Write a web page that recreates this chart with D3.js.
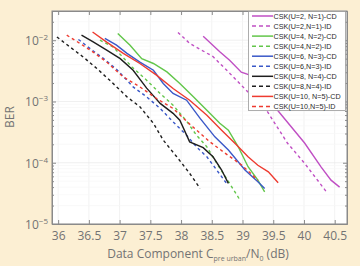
<!DOCTYPE html>
<html>
<head>
<meta charset="utf-8">
<script src="https://cdn.jsdelivr.net/npm/d3@7"></script>
<style>
  html, body { margin: 0; padding: 0; background: #fcefd3; }
  svg { display: block; }
</style>
</head>
<body>
<div id="chart"></div>
<script>
// BER vs C/N0 curves

var xTicks = [36, 36.5, 37, 37.5, 38, 38.5, 39, 39.5, 40, 40.5];
var yTicks = [1e-5, 1e-4, 1e-3, 1e-2];
var yTickExp = ["-5", "-4", "-3", "-2"];

// U=2, N=1
var snrU2CD = [38.36, 38.63, 38.79, 38.98, 39.12, 39.57, 40.01, 40.28, 40.44, 40.58];
var berU2CD = [1.16e-2, 6.5e-3, 4.7e-3, 3.0e-3, 2.7e-3, 7.2e-4, 2.1e-4, 8.5e-5, 5.2e-5, 4.0e-5];
var snrU2ID = [37.95, 38.14, 38.52, 38.79, 39.04, 39.39, 39.73, 40.01, 40.36];
var berU2ID = [1.34e-2, 8.9e-3, 5.4e-3, 2.9e-3, 1.6e-3, 7.2e-4, 2.1e-4, 9.8e-5, 3.4e-5];
// U=4, N=2
var snrU4CD = [36.97, 37.17, 37.36, 37.55, 37.77, 37.98, 38.20, 38.42, 38.63, 38.77, 38.93, 39.09, 39.25, 39.36];
var berU4CD = [1.29e-2, 8.3e-3, 5.0e-3, 4.17e-3, 3.04e-3, 1.97e-3, 1.19e-3, 7.2e-4, 4.4e-4, 3.4e-4, 1.82e-4, 8.6e-5, 5.2e-5, 3.35e-5];
var snrU4ID = [36.68, 36.90, 37.20, 37.44, 37.66, 37.87, 38.09, 38.25, 38.42, 38.60, 38.79, 38.96];
var berU4ID = [1.0e-2, 7.7e-3, 3.67e-3, 2.22e-3, 1.35e-3, 8.7e-4, 4.78e-4, 2.82e-4, 1.82e-4, 9.1e-5, 4.6e-5, 2.45e-5];
// U=6, N=3
var snrU6CD = [36.76, 36.95, 37.12, 37.33, 37.55, 37.71, 37.87, 38.09, 38.31, 38.55, 38.77, 39.04, 39.25, 39.36];
var berU6CD = [1.07e-2, 8.3e-3, 6.1e-3, 4.4e-3, 3.24e-3, 1.97e-3, 1.35e-3, 1.05e-3, 5.3e-4, 2.65e-4, 1.61e-4, 7.6e-5, 4.9e-5, 3.8e-5];
var snrU6ID = [36.33, 36.52, 36.74, 36.95, 37.22, 37.44, 37.66, 37.87, 38.09, 38.25, 38.42, 38.58, 38.74];
var berU6ID = [1.03e-2, 7.3e-3, 5.0e-3, 3.36e-3, 1.73e-3, 1.19e-3, 7.7e-4, 4.65e-4, 2.82e-4, 1.82e-4, 1.25e-4, 7.6e-5, 4.6e-5];
// U=8, N=4
var snrU8CD = [36.38, 36.57, 36.79, 37.01, 37.22, 37.44, 37.66, 37.87, 37.98, 38.14, 38.36, 38.52, 38.66, 38.77];
var berU8CD = [1.21e-2, 9.4e-3, 6.9e-3, 5.0e-3, 3.24e-3, 1.65e-3, 9.3e-4, 6.4e-4, 4.96e-4, 2.19e-4, 1.76e-4, 1.25e-4, 7.6e-5, 4.6e-5];
var snrU8ID = [35.98, 36.19, 36.41, 36.63, 36.84, 37.12, 37.33, 37.55, 37.71, 37.93, 38.14, 38.31];
var berU8ID = [1.13e-2, 7.8e-3, 5.3e-3, 3.45e-3, 2.22e-3, 1.19e-3, 8.2e-4, 4.4e-4, 2.34e-4, 1.25e-4, 6.7e-5, 3.8e-5];
// U=10, N=5
var snrU10CD = [36.56, 36.79, 37.06, 37.33, 37.60, 37.87, 38.14, 38.42, 38.66, 38.88, 39.09, 39.25, 39.42, 39.58];
var berU10CD = [1.36e-2, 9.3e-3, 6.1e-3, 4.17e-3, 2.69e-3, 1.63e-3, 1.05e-3, 5.98e-4, 3.4e-4, 2.06e-4, 1.25e-4, 9.1e-5, 7.1e-5, 4.7e-5];
var snrU10ID = [36.14, 36.36, 36.57, 36.79, 37.06, 37.33, 37.60, 37.87, 38.14, 38.47, 38.76, 38.99, 39.25];
var berU10ID = [1.21e-2, 8.8e-3, 6.4e-3, 4.4e-3, 2.52e-3, 1.73e-3, 1.12e-3, 7.7e-4, 4.27e-4, 2.19e-4, 1.33e-4, 9.1e-5, 5.2e-5];

var legendLabels = ["CSK(U=2, N=1)-CD", "CSK(U=2,N=1)-ID", "CSK(U=4, N=2)-CD", "CSK(U=4,N=2)-ID",
    "CSK(U=6, N=3)-CD", "CSK(U=6,N=3)-ID", "CSK(U=8, N=4)-CD", "CSK(U=8,N=4)-ID",
    "CSK(U=10, N=5)-CD", "CSK(U=10,N=5)-ID"];

// series in legend order
var series = [
    { x: snrU2CD, y: berU2CD, color: "#c04fc4", dash: false },
    { x: snrU2ID, y: berU2ID, color: "#c04fc4", dash: true },
    { x: snrU4CD, y: berU4CD, color: "#62c64a", dash: false },
    { x: snrU4ID, y: berU4ID, color: "#62c64a", dash: true },
    { x: snrU6CD, y: berU6CD, color: "#3a58c8", dash: false },
    { x: snrU6ID, y: berU6ID, color: "#3a58c8", dash: true },
    { x: snrU8CD, y: berU8CD, color: "#1e1e1e", dash: false },
    { x: snrU8ID, y: berU8ID, color: "#1e1e1e", dash: true },
    { x: snrU10CD, y: berU10CD, color: "#ee3b30", dash: false },
    { x: snrU10ID, y: berU10ID, color: "#ee3b30", dash: true }
];

var W = 360, H = 266;
var plot = { left: 52, right: 347, top: 11, bottom: 224 };
var tickColor = "#737373";
var fontFam = "'Open Sans', 'Noto Sans', sans-serif";

var svg = d3.select("#chart").append("svg")
    .attr("width", W).attr("height", H);

var x = d3.scaleLinear().domain([35.9, 40.7]).range([plot.left, plot.right]);
var y = d3.scaleLog().domain([1e-5, 0.03]).range([plot.bottom, plot.top]);

// white plot area
svg.append("rect")
    .attr("x", plot.left).attr("y", plot.top)
    .attr("width", plot.right - plot.left).attr("height", plot.bottom - plot.top)
    .attr("fill", "#ffffff");

// minor log values
var minorY = [];
for (var e = -5; e <= -2; e++) {
    for (var m = 2; m <= 9; m++) {
        var v = m * Math.pow(10, e);
        if (v <= 0.03) minorY.push(v);
    }
}

// grid
var grid = svg.append("g").attr("stroke", "#ececec").attr("stroke-width", 0.7);
xTicks.forEach(function (t) {
    grid.append("line").attr("x1", x(t)).attr("x2", x(t))
        .attr("y1", plot.top).attr("y2", plot.bottom);
});
yTicks.concat(minorY).forEach(function (t) {
    grid.append("line").attr("x1", plot.left).attr("x2", plot.right)
        .attr("y1", y(t)).attr("y2", y(t))
        .attr("stroke", yTicks.indexOf(t) >= 0 ? "#e8e8e8" : "#f6f6f6");
});

// lines
var clip = svg.append("clipPath").attr("id", "clip").append("rect")
    .attr("x", plot.left).attr("y", plot.top)
    .attr("width", plot.right - plot.left).attr("height", plot.bottom - plot.top);

var line = d3.line()
    .x(function (d) { return x(d[0]); })
    .y(function (d) { return y(d[1]); });

var linesG = svg.append("g").attr("clip-path", "url(#clip)");
series.forEach(function (s) {
    var pts = s.x.map(function (v, i) { return [v, s.y[i]]; });
    linesG.append("path")
        .datum(pts)
        .attr("fill", "none")
        .attr("stroke", s.color)
        .attr("stroke-width", 1.4)
        .attr("stroke-dasharray", s.dash ? "3,3" : null)
        .attr("d", line);
});

// axes (ticks inside, on all four sides)
function styleAxis(g) {
    g.selectAll("path").attr("stroke", "#8a8a8a");
    g.selectAll("line").attr("stroke", "#8a8a8a");
}
svg.append("g").attr("transform", "translate(0," + plot.bottom + ")")
    .call(d3.axisBottom(x).tickValues(xTicks).tickSizeInner(-4).tickSizeOuter(0).tickPadding(7)
        .tickFormat(function (d) { return d; }))
    .call(styleAxis)
    .call(function (g) {
        g.selectAll("text").attr("fill", tickColor).style("font-size", "12px")
            .style("font-family", fontFam);
    });
svg.append("g").attr("transform", "translate(0," + plot.top + ")")
    .call(d3.axisTop(x).tickValues(xTicks).tickSizeInner(-4).tickSizeOuter(0).tickFormat(""))
    .call(styleAxis);

svg.append("g").attr("transform", "translate(" + plot.left + ",0)")
    .call(d3.axisLeft(y).tickValues(yTicks).tickSizeInner(-4).tickSizeOuter(0).tickFormat(""))
    .call(styleAxis);
svg.append("g").attr("transform", "translate(" + plot.left + ",0)")
    .call(d3.axisLeft(y).tickValues(minorY).tickSizeInner(-2).tickSizeOuter(0).tickFormat(""))
    .call(styleAxis);
svg.append("g").attr("transform", "translate(" + plot.right + ",0)")
    .call(d3.axisRight(y).tickValues(yTicks).tickSizeInner(-4).tickSizeOuter(0).tickFormat(""))
    .call(styleAxis);
svg.append("g").attr("transform", "translate(" + plot.right + ",0)")
    .call(d3.axisRight(y).tickValues(minorY).tickSizeInner(-2).tickSizeOuter(0).tickFormat(""))
    .call(styleAxis);

// y tick labels 10^n
yTicks.forEach(function (t, i) {
    var txt = svg.append("text")
        .attr("x", plot.left - 4).attr("y", y(t) + 5)
        .attr("text-anchor", "end")
        .attr("fill", tickColor)
        .style("font-family", fontFam).style("font-size", "12px");
    txt.append("tspan").text("10");
    txt.append("tspan").attr("dy", -5).style("font-size", "8px").text(yTickExp[i].replace("-", "\u2212"));
});

// frame
svg.append("rect")
    .attr("x", plot.left).attr("y", plot.top)
    .attr("width", plot.right - plot.left).attr("height", plot.bottom - plot.top)
    .attr("fill", "none").attr("stroke", "#8a8a8a").attr("stroke-width", 1);

// axis titles
svg.append("text")
    .attr("transform", "translate(14,117) rotate(-90)")
    .attr("text-anchor", "middle")
    .attr("fill", tickColor)
    .style("font-family", fontFam).style("font-size", "12px")
    .text("BER");

var xl = svg.append("text")
    .attr("x", 198).attr("y", 258)
    .attr("text-anchor", "middle")
    .attr("fill", tickColor)
    .style("font-family", fontFam).style("font-size", "12px");
xl.append("tspan").text("Data Component C");
xl.append("tspan").attr("dy", 3).style("font-size", "7px").text("pre urban");
xl.append("tspan").attr("dy", -3).text("/N");
xl.append("tspan").attr("dy", 3).style("font-size", "7px").text("0");
xl.append("tspan").attr("dy", -3).text(" (dB)");

// legend
var lg = svg.append("g");
lg.append("rect")
    .attr("x", 248.5).attr("y", 11.5).attr("width", 97).attr("height", 99)
    .attr("fill", "#ffffff").attr("stroke", "#9a9a9a").attr("stroke-width", 0.8);
legendLabels.forEach(function (lab, i) {
    var ly = 16 + i * 10.05;
    lg.append("line")
        .attr("x1", 252).attr("x2", 273).attr("y1", ly).attr("y2", ly)
        .attr("stroke", series[i].color).attr("stroke-width", 1.5)
        .attr("stroke-dasharray", series[i].dash ? "4,3" : null);
    lg.append("text")
        .attr("x", 273.5).attr("y", ly + 2.6)
        .attr("fill", "#2a2a2a")
        .style("font-family", "'Liberation Sans', Arial, sans-serif")
        .style("font-size", "7.2px")
        .text(lab);
});
</script>
</body>
</html>
